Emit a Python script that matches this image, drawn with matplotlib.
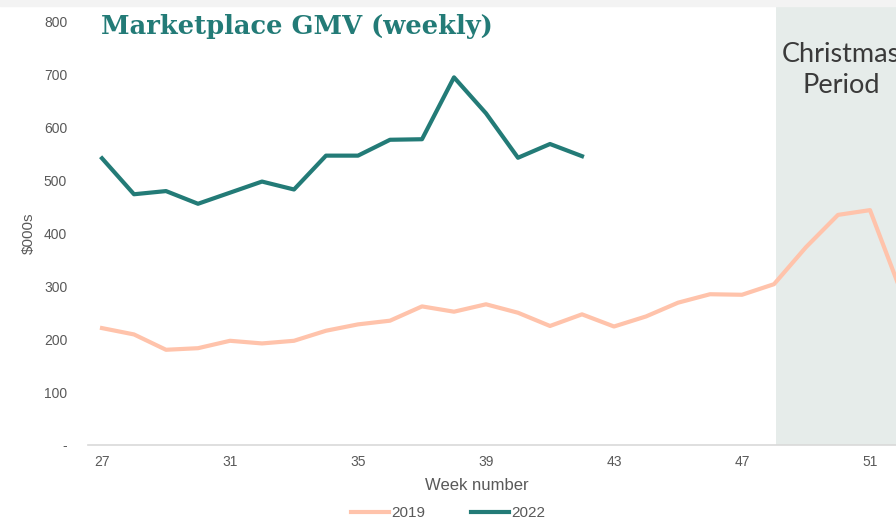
import matplotlib
matplotlib.use("Agg")
import matplotlib.pyplot as plt
from matplotlib.patches import Rectangle

weeks_2019 = [27, 28, 29, 30, 31, 32, 33, 34, 35, 36, 37, 38, 39, 40,
              41, 42, 43, 44, 45, 46, 47, 48, 49, 50, 51, 52]
gmv_2019 = [221, 209, 180, 183, 197, 192, 197, 216, 228, 235, 262, 252, 266, 250,
            225, 247, 224, 243, 269, 285, 284, 304, 374, 435, 444, 285]

weeks_2022 = [27, 28, 29, 30, 31, 32, 33, 34, 35, 36, 37, 38, 39, 40, 41, 42]
gmv_2022 = [542, 474, 480, 456, 477, 498, 483, 547, 547, 577, 578, 695, 627, 543, 569, 546]

xticks = [27, 31, 35, 39, 43, 47, 51]
yticks = [0, 100, 200, 300, 400, 500, 600, 700, 800]
ytick_labels = ["-", "100", "200", "300", "400", "500", "600", "700", "800"]
christmas_start = 48.05

W, H = 896, 521
fig = plt.figure(figsize=(W / 100, H / 100), dpi=100)
ax = fig.add_axes([88 / W, 1 - 445 / H, 1 - 88 / W, (445 - 6) / H])

gray = "#595959"
peach = "#ffc3ab"
teal = "#237b77"

ax.axvspan(christmas_start, 60, color="#e6ecea", zorder=0, lw=0)
ax.plot(weeks_2019, gmv_2019, color=peach, lw=3, label="2019", zorder=2)
ax.plot(weeks_2022, gmv_2022, color=teal, lw=3, label="2022", zorder=3)

ax.set_xlim(27 - 14 / 32, 27 + (W - 102) / 32)
ax.set_ylim(0, (445 - 6) / 0.529)
ax.set_xticks(xticks)
ax.set_yticks(yticks)
ax.set_yticklabels(ytick_labels)
ax.tick_params(length=0, labelsize=10, colors=gray, labelfontfamily="Liberation Sans")
ax.tick_params(axis="y", pad=15)
ax.tick_params(axis="x", pad=7)
for s in ["top", "right", "left"]:
    ax.spines[s].set_visible(False)
ax.spines["bottom"].set_color("#d9d9d9")
ax.spines["bottom"].set_linewidth(1.2)

fig.text(29 / W, 1 - 233 / H, "$000s", rotation=90, ha="center", va="center",
         fontsize=11, color=gray, family="Liberation Sans")
fig.text(477 / W, 1 - 485 / H, "Week number", ha="center", va="center",
         fontsize=12, color=gray, family="Liberation Sans")
fig.text(101 / W, 1 - 34 / H, "Marketplace GMV (weekly)", ha="left", va="baseline",
         fontsize=18.5, color=teal, family="DejaVu Serif", weight="bold")
fig.text(841 / W, 1 - 70 / H, "Christmas\nPeriod", ha="center", va="center",
         fontsize=19.5, color="#3a3a3a", family="Lato", linespacing=1.3)

fig.patches.append(Rectangle((0, 1 - 6 / H), 1, 6 / H, transform=fig.transFigure,
                             color="#f3f3f3", zorder=0))

leg = fig.legend(loc="center", bbox_to_anchor=(448 / W, 1 - 513 / H), ncol=2,
                 frameon=False, handlelength=2.5, handletextpad=0.15,
                 columnspacing=3.0, prop={"family": "Liberation Sans", "size": 11})
for t in leg.get_texts():
    t.set_color(gray)

fig.savefig("out.png", dpi=100)
